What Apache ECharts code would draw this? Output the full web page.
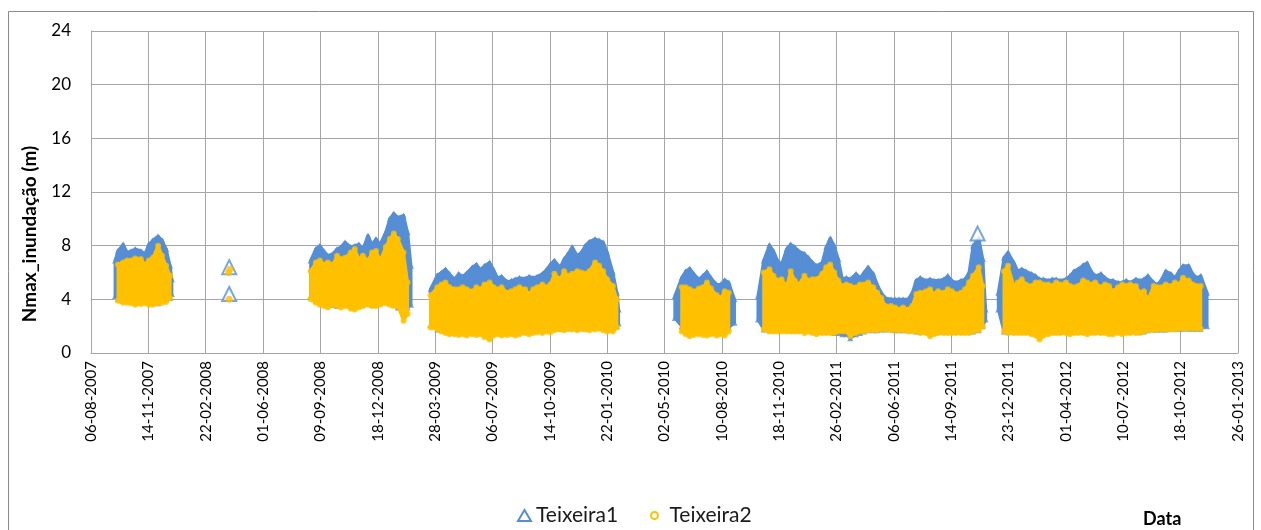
<!DOCTYPE html>
<html lang="pt">
<head>
    <meta charset="utf-8" />
    <title>Nmax_inundação - Teixeira</title>
    <script type="text/javascript" src="https://cdn.jsdelivr.net/npm/echarts@6/dist/echarts.min.js"></script>
    <style>
        html, body { margin: 0; padding: 0; background: #fff; }
        #chart { width: 1261px; height: 530px; }
    </style>
</head>
<body>
    <div id="chart"></div>

    <script type="text/javascript">
        // tick labels of the date axis (one every 100 days from 06-08-2007)
        const xTickLabels = ['06-08-2007', '14-11-2007', '22-02-2008', '01-06-2008', '09-09-2008', '18-12-2008',
            '28-03-2009', '06-07-2009', '14-10-2009', '22-01-2010', '02-05-2010', '10-08-2010', '18-11-2010',
            '26-02-2011', '06-06-2011', '14-09-2011', '23-12-2011', '01-04-2012', '10-07-2012', '18-10-2012', '26-01-2013'];

        // sample dates, with the low / high envelope of each station
        const sampleDates = [
            '2007-09-17','2007-09-22','2007-10-01','2007-10-08','2007-10-15','2007-10-22','2007-11-01','2007-11-08','2007-11-15','2007-11-22','2007-12-01','2007-12-08','2007-12-15','2007-12-22','2007-12-25',
            '2008-08-23','2008-09-01','2008-09-08','2008-09-15','2008-09-22','2008-10-01','2008-10-08','2008-10-15','2008-10-22','2008-11-01','2008-11-08','2008-11-15','2008-11-22','2008-12-01','2008-12-08','2008-12-15','2008-12-22','2009-01-01','2009-01-08','2009-01-15','2009-01-22','2009-02-01','2009-02-08','2009-02-14',
            '2009-03-20','2009-04-01','2009-04-08','2009-04-15','2009-04-22','2009-05-01','2009-05-08','2009-05-15','2009-05-22','2009-06-01','2009-06-08','2009-06-15','2009-06-22','2009-07-01','2009-07-08','2009-07-15','2009-07-22','2009-08-01','2009-08-08','2009-08-15','2009-08-22','2009-09-01','2009-09-08','2009-09-15','2009-09-22','2009-10-01','2009-10-08','2009-10-15','2009-10-22','2009-11-01','2009-11-08','2009-11-15','2009-11-22','2009-12-01','2009-12-08','2009-12-15','2009-12-22','2010-01-01','2010-01-08','2010-01-15','2010-01-22','2010-02-01','2010-02-08','2010-02-11',
            '2010-05-20','2010-06-01','2010-06-08','2010-06-15','2010-06-22','2010-07-01','2010-07-08','2010-07-15','2010-07-22','2010-08-01','2010-08-08','2010-08-15','2010-08-22','2010-09-01',
            '2010-10-12','2010-10-22','2010-11-01','2010-11-08','2010-11-15','2010-11-22','2010-12-01','2010-12-08','2010-12-15','2010-12-22','2011-01-01','2011-01-08','2011-01-15','2011-01-22','2011-02-01','2011-02-08','2011-02-15','2011-02-22','2011-03-01','2011-03-08','2011-03-15','2011-03-22','2011-04-01','2011-04-08','2011-04-15','2011-04-22','2011-05-01','2011-05-08','2011-05-15','2011-05-22','2011-06-01','2011-06-08','2011-06-15','2011-06-22','2011-07-01','2011-07-08','2011-07-15','2011-07-22','2011-08-01','2011-08-08','2011-08-15','2011-08-22','2011-09-01','2011-09-08','2011-09-15','2011-09-22','2011-10-01','2011-10-08','2011-10-15','2011-10-22','2011-11-01','2011-11-08','2011-11-13',
            '2011-12-05','2011-12-15','2011-12-22','2012-01-01','2012-01-08','2012-01-15','2012-01-22','2012-02-01','2012-02-08','2012-02-15','2012-02-22','2012-03-01','2012-03-08','2012-03-15','2012-03-22','2012-04-01','2012-04-08','2012-04-15','2012-04-22','2012-05-01','2012-05-08','2012-05-15','2012-05-22','2012-06-01','2012-06-08','2012-06-15','2012-06-22','2012-07-01','2012-07-08','2012-07-15','2012-07-22','2012-08-01','2012-08-08','2012-08-15','2012-08-22','2012-09-01','2012-09-08','2012-09-15','2012-09-22','2012-10-01','2012-10-08','2012-10-15','2012-10-22','2012-11-01','2012-11-08','2012-11-15','2012-11-22','2012-12-03'
        ];

        // Teixeira1 (m)
        const t1High = [
            6.9, 7.6, 8.1, 7.5, 7.6, 7.75, 7.6, 7.4, 8.1, 8.4, 8.7, 8.4, 7.75, 6.5, 5.5,
            6.9, 7.75, 8.0, 7.6, 7.25, 7.4, 7.75, 7.9, 8.25, 7.9, 8.0, 8.1, 7.75, 8.75, 8.1, 8.5, 8.1, 9.0, 10.0, 10.4, 10.1, 10.25, 9.0, 6.5,
            4.75, 5.8, 6.0, 6.25, 5.9, 5.5, 5.9, 5.7, 5.95, 6.4, 6.6, 6.2, 6.5, 6.75, 6.2, 5.6, 5.7, 5.3, 5.4, 5.5, 5.6, 5.55, 5.7, 5.6, 5.7, 5.9, 6.2, 6.6, 6.9, 6.4, 7.0, 7.4, 7.9, 7.25, 7.5, 8.0, 8.3, 8.5, 8.4, 8.25, 7.5, 6.0, 4.5, 3.25,
            4.25, 5.6, 6.1, 6.3, 5.9, 5.5, 5.75, 6.05, 5.6, 5.1, 5.1, 5.45, 5.25, 4.0,
            4.25, 6.9, 8.05, 7.6, 6.9, 6.6, 7.75, 8.1, 7.9, 7.6, 7.4, 7.1, 6.75, 6.5, 6.75, 7.9, 8.55, 8.0, 7.0, 5.55, 5.6, 5.5, 5.9, 5.6, 6.0, 6.4, 5.9, 5.1, 4.5, 4.1, 4.0, 4.0, 4.0, 4.0, 4.0, 4.5, 5.4, 5.6, 5.4, 5.5, 5.4, 5.4, 5.5, 5.75, 5.4, 5.25, 5.4, 5.5, 6.0, 8.0, 8.55, 7.0, 3.25,
            4.5, 7.1, 7.5, 6.75, 6.1, 6.25, 6.1, 5.9, 5.75, 5.5, 5.5, 5.4, 5.5, 5.5, 5.4, 5.5, 5.75, 6.1, 6.25, 6.55, 6.7, 6.1, 5.75, 5.9, 5.6, 5.4, 5.4, 5.25, 5.25, 5.4, 5.25, 5.5, 5.4, 5.5, 5.75, 5.25, 5.1, 5.5, 6.1, 5.9, 5.6, 6.1, 6.5, 6.5, 5.9, 5.6, 5.75, 4.5
        ];
        const t1Low = [
            4.25, 4.0, 3.9, 3.9, 3.9, 3.9, 3.9, 3.9, 3.9, 3.8, 3.7, 3.9, 4.0, 4.1, 4.4,
            4.25, 3.9, 3.8, 3.8, 3.75, 3.6, 3.5, 3.6, 3.6, 3.5, 3.6, 3.5, 3.6, 3.7, 3.6, 3.6, 3.7, 3.8, 3.7, 3.6, 3.4, 3.3, 3.4, 3.6,
            2.1, 1.75, 1.75, 1.7, 1.7, 1.6, 1.6, 1.6, 1.6, 1.55, 1.55, 1.6, 1.55, 1.5, 1.6, 1.55, 1.6, 1.6, 1.65, 1.6, 1.6, 1.7, 1.7, 1.7, 1.75, 1.75, 1.75, 1.8, 1.8, 1.8, 1.8, 1.85, 1.85, 1.85, 1.85, 1.85, 1.9, 1.9, 1.9, 1.9, 1.9, 1.9, 2.0, 2.2,
            2.6, 2.0, 1.9, 1.8, 1.8, 1.9, 1.85, 1.8, 1.9, 1.9, 1.85, 1.9, 1.9, 2.25,
            2.5, 1.75, 1.7, 1.7, 1.7, 1.7, 1.7, 1.7, 1.7, 1.7, 1.7, 1.7, 1.6, 1.6, 1.6, 1.6, 1.6, 1.5, 1.5, 1.4, 1.4, 1.1, 1.4, 1.5, 1.6, 1.7, 1.7, 1.7, 1.75, 1.75, 1.75, 1.7, 1.7, 1.7, 1.7, 1.7, 1.6, 1.6, 1.6, 1.5, 1.5, 1.6, 1.6, 1.6, 1.6, 1.6, 1.6, 1.6, 1.6, 1.6, 1.7, 2.0, 2.5,
            3.25, 1.6, 1.6, 1.6, 1.6, 1.6, 1.6, 1.6, 1.6, 1.5, 1.5, 1.6, 1.6, 1.6, 1.6, 1.6, 1.6, 1.6, 1.6, 1.6, 1.6, 1.6, 1.6, 1.6, 1.6, 1.6, 1.6, 1.6, 1.6, 1.6, 1.6, 1.6, 1.6, 1.6, 1.7, 1.75, 1.75, 1.75, 1.75, 1.8, 1.8, 1.8, 1.8, 1.8, 1.8, 1.8, 1.8, 2.0
        ];

        // Teixeira2 (m)
        const t2High = [
            null, 6.6, 6.75, 6.9, 6.9, 7.05, 7.0, 6.6, 6.9, 7.1, 8.0, 7.25, 6.5, 5.75, null,
            6.1, 6.75, 6.9, 6.6, 6.75, 6.6, 7.25, 7.0, 7.1, 7.5, 7.75, 7.0, 7.25, 6.9, 7.5, 7.6, 6.9, 7.9, 8.5, 8.9, 8.5, 7.5, 5.25, null,
            4.3, 4.9, 5.1, 5.25, 4.9, 4.75, 4.75, 4.9, 4.75, 4.6, 4.9, 4.75, 5.1, 5.25, 4.9, 4.75, 4.9, 4.5, 4.6, 4.75, 4.9, 4.75, 4.4, 4.75, 4.9, 5.1, 4.9, 5.1, 5.9, 5.5, 6.1, 5.75, 5.9, 6.1, 6.0, 5.9, 6.1, 6.75, 6.5, 6.1, 5.5, 5.0, 4.0, null,
            null, 4.9, 4.9, 4.75, 4.6, 4.8, 4.9, 5.25, 4.8, 4.3, 4.1, 4.6, 4.5, null,
            null, 6.0, 6.25, 5.75, 5.4, 5.5, 5.0, 6.1, 5.4, 5.1, 5.75, 5.4, 5.5, 5.5, 5.9, 6.4, 6.6, 6.0, 5.4, 5.0, 5.1, 5.0, 4.9, 5.1, 5.1, 5.25, 4.9, 4.5, 4.1, 3.5, 3.5, 3.4, 3.25, 3.4, 3.25, 3.5, 4.4, 4.5, 4.6, 4.75, 4.4, 4.6, 4.5, 4.75, 4.6, 4.4, 4.5, 4.75, 5.25, 5.75, 6.4, 5.0, null,
            null, 6.1, 6.5, 5.0, 5.25, 5.5, 5.1, 5.0, 5.25, 5.25, 5.1, 5.1, 5.0, 5.25, 5.1, 5.25, 5.0, 4.9, 5.0, 5.4, 5.25, 5.1, 5.25, 4.9, 5.1, 5.0, 4.6, 4.9, 5.1, 5.0, 5.1, 5.0, 4.5, 4.6, 4.0, 5.0, 4.9, 4.9, 5.1, 5.0, 5.25, 5.1, 5.6, 5.4, 5.1, 5.0, 5.0, null
        ];
        const t2Low = [
            null, 3.9, 3.75, 3.75, 3.7, 3.6, 3.65, 3.7, 3.6, 3.6, 3.7, 3.75, 3.8, 4.1, null,
            4.0, 3.75, 3.6, 3.5, 3.4, 3.6, 3.5, 3.4, 3.5, 3.3, 3.25, 3.4, 3.5, 3.6, 3.5, 3.5, 3.6, 3.7, 3.6, 3.5, 3.5, 2.4, 2.9, null,
            1.9, 1.75, 1.6, 1.5, 1.4, 1.4, 1.35, 1.4, 1.3, 1.4, 1.35, 1.4, 1.2, 1.0, 1.3, 1.4, 1.3, 1.35, 1.4, 1.3, 1.4, 1.5, 1.4, 1.5, 1.55, 1.5, 1.6, 1.55, 1.7, 1.75, 1.7, 1.8, 1.75, 1.7, 1.8, 1.75, 1.7, 1.75, 1.8, 1.7, 1.6, 1.6, 1.9, null,
            null, 1.6, 1.4, 1.25, 1.35, 1.4, 1.35, 1.3, 1.4, 1.3, 1.4, 1.3, 1.6, null,
            null, 1.75, 1.6, 1.6, 1.6, 1.6, 1.6, 1.6, 1.6, 1.6, 1.5, 1.6, 1.5, 1.4, 1.5, 1.5, 1.5, 1.5, 1.6, 1.6, 1.6, 1.25, 1.5, 1.6, 1.6, 1.7, 1.7, 1.7, 1.75, 1.75, 1.7, 1.7, 1.7, 1.7, 1.6, 1.6, 1.6, 1.5, 1.5, 1.25, 1.4, 1.5, 1.5, 1.5, 1.5, 1.5, 1.5, 1.5, 1.5, 1.6, 1.7, 2.0, null,
            null, 1.6, 1.5, 1.5, 1.5, 1.5, 1.5, 1.4, 1.3, 1.0, 1.3, 1.4, 1.5, 1.5, 1.5, 1.5, 1.4, 1.5, 1.5, 1.5, 1.4, 1.5, 1.5, 1.5, 1.5, 1.4, 1.4, 1.5, 1.4, 1.5, 1.5, 1.5, 1.5, 1.6, 1.7, 1.7, 1.75, 1.75, 1.75, 1.75, 1.75, 1.8, 1.8, 1.8, 1.8, 1.8, 1.8, null
        ];

        // isolated points (April 2008) and the single high value of late October 2011
        const t1PointDates = ['2008-04-03', '2008-04-03', '2011-10-30'];
        const t1PointValues = [6.4, 4.4, 8.9];
        const t2PointDates = ['2008-04-02', '2008-04-04', '2008-04-03'];
        const t2PointValues = [6.0, 6.25, 4.0];

        const blue = '#558ED5';
        const yellow = '#FFC000';
        const fontFamily = 'Lato, "Open Sans", sans-serif';

        [t1High, t1Low, t2High, t2Low].forEach(function (arr) {
            if (arr.length !== sampleDates.length) throw new Error('length mismatch ' + arr.length + ' vs ' + sampleDates.length);
        });

        const origin = Date.parse('2007-08-06');
        function dayOf(s) {
            return Math.round((Date.parse(s) - origin) / 864e5);
        }

        // one quad between two consecutive samples of the same run
        function bandQuads(lo, hi) {
            let out = [];
            for (let i = 0; i < sampleDates.length - 1; i++) {
                let d0 = dayOf(sampleDates[i]), d1 = dayOf(sampleDates[i + 1]);
                if (d1 - d0 > 20) continue;
                if (lo[i] == null || hi[i] == null || lo[i + 1] == null || hi[i + 1] == null) continue;
                out.push([d0, lo[i], hi[i], d1, lo[i + 1], hi[i + 1]]);
            }
            return out;
        }

        // envelope points, drawn as markers to roughen the band edges
        function edgePoints(arrs) {
            let out = [];
            arrs.forEach(function (arr) {
                for (let i = 0; i < sampleDates.length; i++) {
                    if (arr[i] != null) out.push([dayOf(sampleDates[i]), arr[i]]);
                }
            });
            return out;
        }

        function bandSeries(name, color, lo, hi, z) {
            return {
                name: name,
                type: 'custom',
                z: z,
                itemStyle: { color: color },
                silent: true,
                encode: { x: [0, 3], y: [1, 2, 4, 5] },
                data: bandQuads(lo, hi),
                renderItem: function (params, api) {
                    let a = api.coord([api.value(0), api.value(2)]);
                    let b = api.coord([api.value(3), api.value(5)]);
                    let c = api.coord([api.value(3), api.value(4)]);
                    let d = api.coord([api.value(0), api.value(1)]);
                    return {
                        type: 'polygon',
                        shape: { points: [a, b, c, d] },
                        style: { fill: color, stroke: color, lineWidth: 3, lineJoin: 'round' }
                    };
                }
            };
        }

        let chart = echarts.init(document.getElementById('chart'));

        let option = {
            animation: false,
            backgroundColor: '#fff',
            textStyle: { fontFamily: fontFamily },
            grid: { left: 91, right: 23, top: 31, bottom: 177 },
            legend: [
                {
                    left: 517,
                    top: 505,
                    padding: 0,
                    itemWidth: 13,
                    itemHeight: 11,
                    textStyle: { fontSize: 21, color: '#1a1a1a', fontFamily: fontFamily },
                    data: [{ name: 'Teixeira1', icon: 'emptyTriangle' }]
                },
                {
                    left: 650,
                    top: 505,
                    padding: 0,
                    itemWidth: 20,
                    itemHeight: 7,
                    textStyle: { fontSize: 21, color: '#1a1a1a', fontFamily: fontFamily },
                    data: [{ name: 'Teixeira2', icon: 'emptyCircle' }]
                }
            ],
            xAxis: {
                type: 'value',
                min: 0,
                max: 2000,
                interval: 100,
                axisLine: { show: true, lineStyle: { color: '#a6a6a6', width: 1 } },
                axisTick: { show: false },
                splitLine: { show: true, lineStyle: { color: '#a6a6a6', width: 1 } },
                axisLabel: {
                    rotate: 90,
                    margin: 8,
                    fontSize: 15,
                    color: '#000',
                    fontFamily: fontFamily,
                    formatter: function (v) { return xTickLabels[Math.round(v / 100)]; }
                }
            },
            yAxis: {
                type: 'value',
                min: 0,
                max: 24,
                interval: 4,
                axisLine: { show: true, lineStyle: { color: '#a6a6a6', width: 1 } },
                axisTick: { show: false },
                splitLine: { show: true, lineStyle: { color: '#a6a6a6', width: 1 } },
                axisLabel: { margin: 20, fontSize: 17, color: '#000', fontFamily: fontFamily }
            },
            graphic: [
                {
                    type: 'rect',
                    silent: true,
                    shape: { x: 8.5, y: 11.5, width: 1245, height: 540 },
                    style: { fill: null, stroke: '#8c8c8c', lineWidth: 1 }
                },
                {
                    // y axis title
                    type: 'text',
                    x: 30,
                    y: 234,
                    rotation: Math.PI / 2,
                    style: {
                        text: 'Nmax_inundação (m)',
                        font: 'bold 19px ' + fontFamily,
                        fill: '#000',
                        align: 'center',
                        verticalAlign: 'middle'
                    }
                },
                {
                    // x axis title
                    type: 'text',
                    x: 1143,
                    y: 519,
                    style: { text: 'Data', font: 'bold 18px ' + fontFamily, fill: '#000', verticalAlign: 'middle' }
                }
            ],
            series: [
                bandSeries('Teixeira1', blue, t1Low, t1High, 2),
                {
                    name: 'Teixeira1',
                    type: 'scatter',
                    z: 3,
                    silent: true,
                    symbol: 'triangle',
                    symbolSize: 6,
                    itemStyle: { color: blue },
                    data: edgePoints([t1High, t1Low])
                },
                bandSeries('Teixeira2', yellow, t2Low, t2High, 4),
                {
                    name: 'Teixeira2',
                    type: 'scatter',
                    z: 5,
                    silent: true,
                    symbol: 'circle',
                    symbolSize: 6,
                    itemStyle: { color: yellow },
                    data: edgePoints([t2High, t2Low])
                },
                {
                    name: 'Teixeira1',
                    type: 'scatter',
                    z: 6,
                    symbol: 'emptyTriangle',
                    symbolSize: 14,
                    itemStyle: { color: blue, borderWidth: 1.5 },
                    data: t1PointDates.map(function (d, i) { return [dayOf(d), t1PointValues[i]]; })
                },
                {
                    name: 'Teixeira2',
                    type: 'scatter',
                    z: 7,
                    symbol: 'circle',
                    symbolSize: 7,
                    itemStyle: { color: yellow },
                    data: t2PointDates.map(function (d, i) { return [dayOf(d), t2PointValues[i]]; })
                }
            ]
        };

        chart.setOption(option);
    </script>
</body>
</html>
